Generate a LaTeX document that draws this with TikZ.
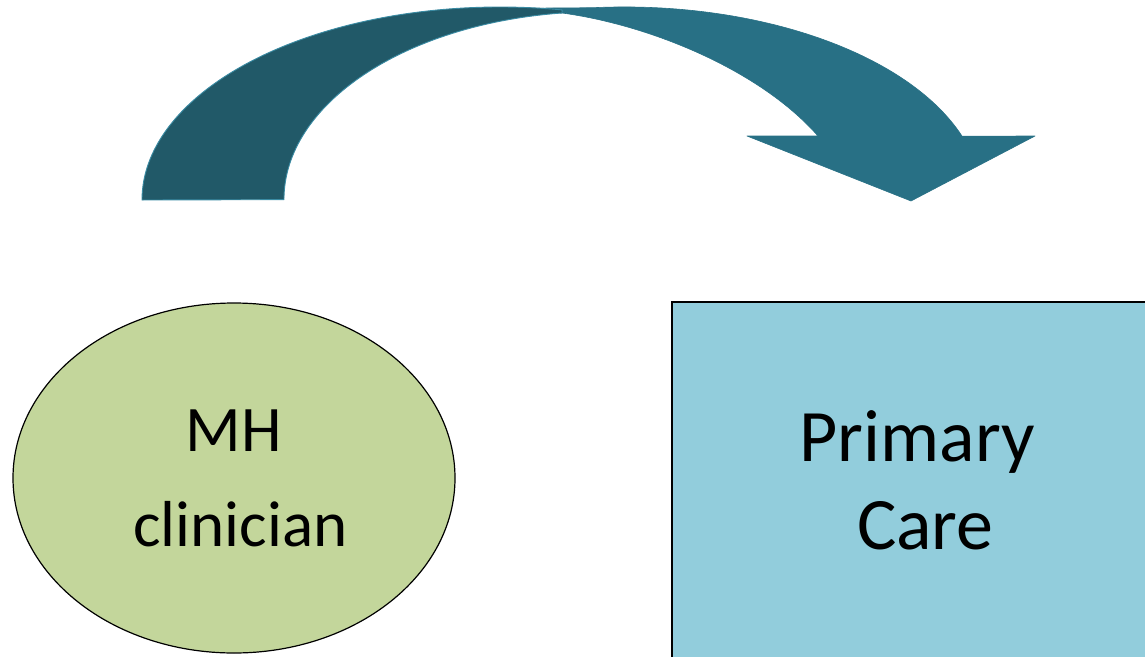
\documentclass[tikz,border=0pt]{standalone}
\usepackage{fontspec}
\setmainfont{Carlito}
\usetikzlibrary{shapes.geometric}
\definecolor{arrowlight}{HTML}{287085}
\definecolor{arrowdark}{HTML}{215968}
\definecolor{arrowedge}{HTML}{3A8BA3}
\definecolor{mhgreen}{HTML}{C3D69B}
\definecolor{pcblue}{HTML}{92CDDC}
\tikzset{
  ovalbox/.style={ellipse, draw=black, line width=1.2pt, fill=mhgreen, inner sep=0pt,
    minimum width=442pt, minimum height=350pt, align=center,
    font=\fontsize{65pt}{95pt}\selectfont},
  carebox/.style={rectangle, draw=black, line width=1.2pt, fill=pcblue, inner sep=0pt,
    minimum width=490pt, minimum height=357pt, align=center,
    font=\fontsize{74pt}{88pt}\selectfont},
  frontband/.style={fill=arrowlight, draw=arrowlight, line width=0.6pt, line join=round},
  backband/.style={fill=arrowdark, draw=arrowedge, line width=0.9pt, line join=round}
}
\begin{document}
\begin{tikzpicture}[x=1pt,y=-1pt]
\useasboundingbox (0,0) rectangle (1145,656);
% nodes
\node[ovalbox] (mh) at (234,478) {MH\\\hspace{0.2em}clinician};
\node[carebox] (pc) at (917,480.5) {Primary\\\hspace{0.226em}Care};
% curved block arrow: front band with head
\fill[frontband] (485,8.5) -- (593,7.7)
  arc[start angle=265, end angle=340.7, x radius=358, y radius=193]
  -- (1035,136) -- (911,201) -- (747,136) -- (818,136)
  .. controls (760,70) and (650,25) .. (562,13) -- (520,12) -- cycle;
\filldraw[backband] (142,200)
  arc[start angle=180, end angle=280, x radius=358, y radius=193]
  -- (562,13)
  arc[start angle=263.1, end angle=180, x radius=316, y radius=188]
  -- cycle;
\end{tikzpicture}
\end{document}
